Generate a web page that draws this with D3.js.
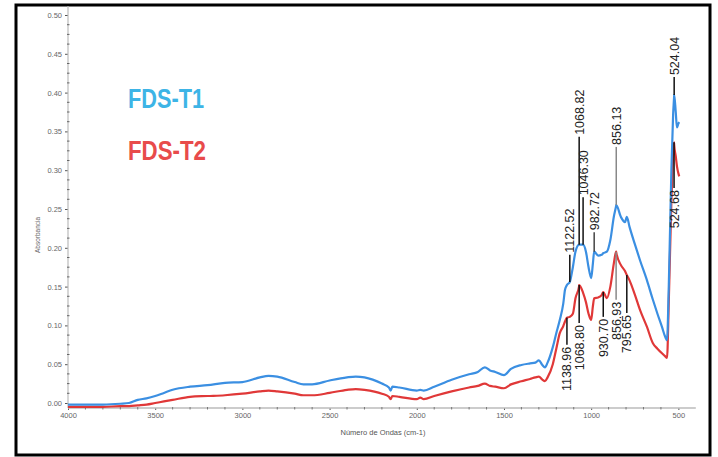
<!DOCTYPE html>
<html>
<head>
<meta charset="utf-8">
<script src="https://cdn.jsdelivr.net/npm/d3@7"></script>
<style>
  html, body { margin: 0; padding: 0; background: #fff; }
  svg { display: block; }
</style>
</head>
<body>
<svg id="chart" width="718" height="457"></svg>
<script>
// FTIR absorbance spectra of the two samples (wavenumber in cm-1, descending)
const wavenumbers = [
  4000, 3900, 3800, 3700, 3650, 3600, 3550, 3500, 3450, 3400, 3300, 3200, 3100,
  3000, 2900, 2850, 2800, 2700, 2650, 2600, 2500, 2400, 2350, 2300, 2200, 2160,
  2150, 2140, 2100, 2000, 1980, 1960, 1900, 1800, 1700, 1650, 1610, 1580, 1550,
  1500, 1460, 1400, 1350, 1320, 1300, 1280, 1265, 1250, 1220, 1200, 1180, 1160,
  1150, 1138.96, 1122.52, 1105, 1090, 1068.82, 1068.80, 1046.30, 1030, 1015, 1000,
  990, 982.72, 960, 940, 930.70, 910, 890, 870, 856.93, 856.13, 830, 806, 795.65,
  780, 750, 720, 680, 646, 620, 594, 575, 565, 555, 540, 530, 524.68, 524.04, 515,
  508, 500, 495
];
const absorbanceT1 = [
  -0.002, -0.002, -0.002, -0.001, 0.000, 0.004, 0.006, 0.009, 0.013, 0.017, 0.021, 0.023, 0.026,
  0.027, 0.033, 0.035, 0.034, 0.027, 0.024, 0.024, 0.029, 0.033, 0.034, 0.033, 0.025, 0.020,
  0.016, 0.021, 0.020, 0.016, 0.017, 0.016, 0.021, 0.030, 0.037, 0.040, 0.046, 0.042, 0.040,
  0.036, 0.044, 0.049, 0.051, 0.052, 0.055, 0.049, 0.046, 0.052, 0.072, 0.090, 0.107, 0.128,
  0.146, 0.152, 0.156, 0.175, 0.195, 0.204, 0.204, 0.204, 0.195, 0.175, 0.161,
  0.180, 0.195, 0.190, 0.191, 0.193, 0.195, 0.210, 0.240, 0.254, 0.255, 0.240, 0.233, 0.240,
  0.227, 0.205, 0.184, 0.158, 0.133, 0.115, 0.098, 0.085, 0.081, 0.150, 0.300, 0.372, 0.394, 0.397, 0.375,
  0.355, 0.360, 0.362
];
const absorbanceT2 = [
  -0.005, -0.005, -0.005, -0.004, -0.004, -0.003, -0.002, 0.000, 0.002, 0.004, 0.008, 0.009, 0.010,
  0.012, 0.015, 0.016, 0.015, 0.012, 0.010, 0.010, 0.013, 0.017, 0.018, 0.017, 0.012, 0.008,
  0.005, 0.009, 0.008, 0.005, 0.007, 0.005, 0.009, 0.015, 0.020, 0.022, 0.025, 0.022, 0.021,
  0.019, 0.024, 0.028, 0.031, 0.033, 0.034, 0.030, 0.028, 0.033, 0.050, 0.070, 0.090, 0.099,
  0.105, 0.110, 0.111, 0.115, 0.135, 0.151, 0.152, 0.142, 0.130, 0.115, 0.107,
  0.125, 0.135, 0.136, 0.139, 0.143, 0.135, 0.150, 0.180, 0.195, 0.194, 0.178, 0.170, 0.165,
  0.158, 0.140, 0.120, 0.098, 0.077, 0.070, 0.064, 0.060, 0.058, 0.130, 0.260, 0.320, 0.336, 0.333, 0.318,
  0.305, 0.296, 0.292
];

const seriesNames = ["FDS-T1", "FDS-T2"];
const xTickValues = [4000, 3500, 3000, 2500, 2000, 1500, 1000, 500];
const yTickValues = [0.00, 0.05, 0.10, 0.15, 0.20, 0.25, 0.30, 0.35, 0.40, 0.45, 0.50];

// Peak assignments: T1 peaks are labelled above the curve, T2 peaks below it
const peaksT1 = [1122.52, 1068.82, 1046.30, 982.72, 856.13, 524.04];
const peaksT2 = [1138.96, 1068.80, 930.70, 856.93, 795.65, 524.68];

const xTitle = "Número de Ondas (cm-1)";
const yTitle = "Absorbancia";

// ---- layout ----
const svg = d3.select("#chart");
const W = 718, H = 457;
const axisY = 408;
const x = d3.scaleLinear().domain([4000, 400]).range([68, 695.8]);
const y = d3.scaleLinear().domain([0, 0.5]).range([403, 15]);

const colors = { T1: "#3b8fe2", T2: "#e03838", legendT1: "#3db4e6", legendT2: "#e84b4b" };

// outer frame
svg.append("rect")
  .attr("x", 16).attr("y", 5).attr("width", 694).attr("height", 450)
  .attr("fill", "#fff").attr("stroke", "#000").attr("stroke-width", 3);

// ---- axes ----
const tickFont = "Liberation Sans, Arial, sans-serif";
const yAxis = d3.axisLeft(y).tickValues(yTickValues).tickFormat(d3.format(".2f")).tickSize(3).tickPadding(3);
const gy = svg.append("g").attr("transform", "translate(68,0)").call(yAxis);
gy.select(".domain").remove();
svg.append("line").attr("x1", 68).attr("x2", 68).attr("y1", 6).attr("y2", axisY)
  .attr("stroke", "#bbb").attr("stroke-width", 1.2);
// minor y ticks
const yMinor = d3.range(0.0125, 0.5, 0.0125).filter(v => Math.abs(v / 0.05 - Math.round(v / 0.05)) > 1e-6);
svg.append("g").selectAll("line").data(yMinor).join("line")
  .attr("x1", 67).attr("x2", 69.5).attr("y1", d => y(d)).attr("y2", d => y(d))
  .attr("stroke", "#666").attr("stroke-width", 1);

const xAxis = d3.axisBottom(x).tickValues(xTickValues).tickFormat(d3.format("d")).tickSize(2).tickPadding(3);
const gx = svg.append("g").attr("transform", `translate(0,${axisY})`).call(xAxis);
gx.select(".domain").remove();
svg.append("line").attr("x1", 68).attr("x2", 695.8).attr("y1", axisY).attr("y2", axisY)
  .attr("stroke", "#bbb").attr("stroke-width", 1.6);
// minor x ticks
const xMinor = d3.range(3900, 400, -100).filter(v => v % 500 !== 0);
svg.append("g").selectAll("line").data(xMinor).join("line")
  .attr("x1", d => x(d)).attr("x2", d => x(d)).attr("y1", axisY - 1).attr("y2", axisY + 1.5)
  .attr("stroke", "#777").attr("stroke-width", 1);

[gx, gy].forEach(g => {
  g.selectAll(".tick line").attr("stroke", "#555");
  g.selectAll(".tick text").attr("fill", "#666").attr("font-family", tickFont).attr("font-size", 7.5);
});

svg.append("text")
  .attr("x", 383).attr("y", 435).attr("text-anchor", "middle")
  .attr("font-family", tickFont).attr("font-size", 7.5).attr("fill", "#555")
  .text(xTitle);
svg.append("text")
  .attr("transform", "translate(40,235) rotate(-90)").attr("text-anchor", "middle")
  .attr("font-family", tickFont).attr("font-size", 6.5).attr("fill", "#666")
  .text(yTitle);

// ---- spectra ----
const line = d3.line()
  .x(d => x(d[0])).y(d => y(d[1]))
  .curve(d3.curveMonotoneX);

const dataT1 = wavenumbers.map((w, i) => [w, absorbanceT1[i]]);
const dataT2 = wavenumbers.map((w, i) => [w, absorbanceT2[i]]);

svg.append("path").datum(dataT2).attr("d", line)
  .attr("fill", "none").attr("stroke", colors.T2).attr("stroke-width", 2.2).attr("stroke-linejoin", "round");
svg.append("path").datum(dataT1).attr("d", line)
  .attr("fill", "none").attr("stroke", colors.T1).attr("stroke-width", 2.2).attr("stroke-linejoin", "round");

// ---- peak labels ----
const valueAt = (series, w) => series[wavenumbers.indexOf(w)];
// end of each leader line, in absorbance units
const leaderEndT1 = [0.191, 0.343, 0.265, 0.220, 0.330, 0.420];
const leaderEndT2 = [0.075, 0.103, 0.111, 0.133, 0.116, 0.277];
const leaderColorT1 = ["#111", "#111", "#111", "#444", "#888", "#111"];
const leaderColorT2 = ["#111", "#111", "#111", "#888", "#111", "#111"];
const labelFont = "Liberation Sans, Arial, sans-serif";

peaksT1.forEach((w, i) => {
  const px = x(w), y0 = y(valueAt(absorbanceT1, w)), y1 = y(leaderEndT1[i]);
  svg.append("line").attr("x1", px).attr("x2", px).attr("y1", y0).attr("y2", y1)
    .attr("stroke", leaderColorT1[i]).attr("stroke-width", 1.5);
  svg.append("text")
    .attr("transform", `translate(${px + 4.5},${y1 - 2}) rotate(-90)`)
    .attr("text-anchor", "start")
    .attr("font-family", labelFont).attr("font-size", 12.5).attr("fill", "#222")
    .text(w.toFixed(2));
});

peaksT2.forEach((w, i) => {
  const px = x(w), y0 = y(valueAt(absorbanceT2, w)), y1 = y(leaderEndT2[i]);
  svg.append("line").attr("x1", px).attr("x2", px).attr("y1", y0).attr("y2", y1)
    .attr("stroke", leaderColorT2[i]).attr("stroke-width", 1.5);
  svg.append("text")
    .attr("transform", `translate(${px + 4.5},${y1 + 2}) rotate(-90)`)
    .attr("text-anchor", "end")
    .attr("font-family", labelFont).attr("font-size", 12.5).attr("fill", "#222")
    .text(w.toFixed(2));
});

// ---- series names ----
svg.append("text").attr("x", 128).attr("y", 108)
  .attr("font-family", labelFont).attr("font-weight", "bold").attr("font-size", 28)
  .attr("textLength", 76).attr("lengthAdjust", "spacingAndGlyphs")
  .attr("fill", colors.legendT1).text(seriesNames[0]);
svg.append("text").attr("x", 128).attr("y", 160)
  .attr("font-family", labelFont).attr("font-weight", "bold").attr("font-size", 28)
  .attr("textLength", 78).attr("lengthAdjust", "spacingAndGlyphs")
  .attr("fill", colors.legendT2).text(seriesNames[1]);
</script>
</body>
</html>
